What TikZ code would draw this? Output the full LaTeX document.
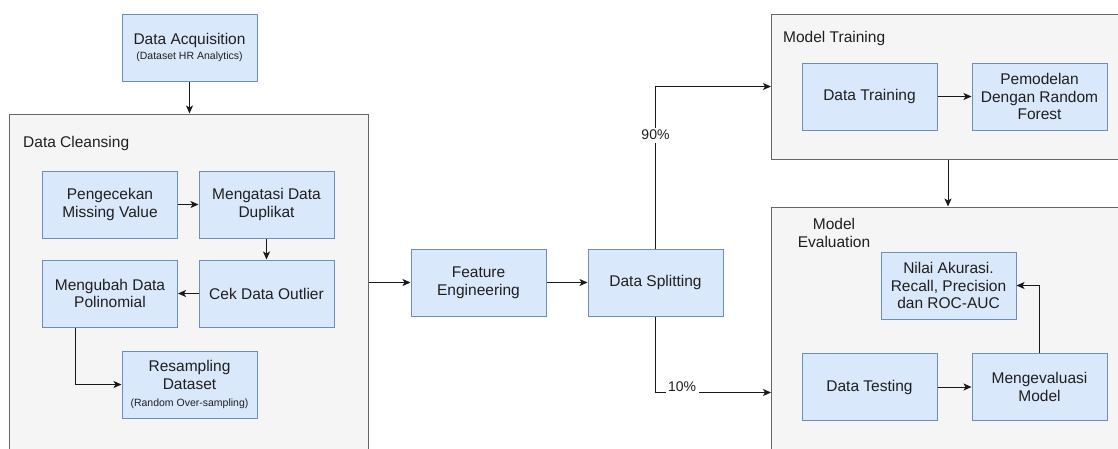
\documentclass[tikz,border=0pt]{standalone}
\usepackage{fontspec}
\setmainfont{Liberation Sans}
\usetikzlibrary{arrows.meta}
\definecolor{boxfill}{HTML}{DAE8FC}
\definecolor{boxline}{HTML}{6C8EBF}
\definecolor{contfill}{HTML}{F5F5F5}
\definecolor{contline}{HTML}{666666}
\definecolor{txt}{HTML}{1F1F1F}
\begin{document}
\begin{tikzpicture}[x=1pt,y=-1pt,
  every node/.style={text=txt},
  stepbox/.style={draw=boxline,fill=boxfill,line width=1pt,minimum width=135pt,minimum height=67pt,inner sep=0pt,align=center,font=\fontsize{15.5}{17.7}\selectfont},
  container/.style={draw=contline,fill=contfill,line width=1pt,inner sep=0pt},
  lbl/.style={font=\fontsize{15.5}{17.7}\selectfont,inner sep=0pt,align=center},
  conn/.style={draw=black!90,line width=1pt,-{Stealth[length=8pt,width=7pt,inset=2pt]}},
  pct/.style={fill=white,font=\fontsize{14}{16}\selectfont,inner sep=2.5pt}
]
\path[use as bounding box,clip] (0,0) rectangle (1118,448);
\fill[white] (0,0) rectangle (1118,448);

% containers
\node[container,minimum width=359pt,minimum height=346pt] (DC) at (188.5,287) {};
\node[container,minimum width=354pt,minimum height=145pt] (MT) at (948,86.5) {};
\node[container,minimum width=354pt,minimum height=253pt] (ME) at (948,333.5) {};

\node[lbl,anchor=west] (DCl) at (23,143) {Data Cleansing};
\node[lbl,anchor=west] (MTl) at (783,38) {Model Training};
\node[lbl] (MEl) at (834,233) {Model\\Evaluation};

% boxes
\node[stepbox] (DA) at (189.5,47.5) {Data Acquisition\\[-2pt]{\fontsize{10.5}{13}\selectfont (Dataset HR Analytics)}};
\node[stepbox] (PG) at (110,204.5) {Pengecekan\\Missing Value};
\node[stepbox] (MD) at (266.5,204.5) {Mengatasi Data\\Duplikat};
\node[stepbox] (CO) at (266.5,293.5) {Cek Data Outlier};
\node[stepbox] (MP) at (110,293.5) {Mengubah Data\\Polinomial};
\node[stepbox] (RS) at (189.5,384.5) {Resampling\\Dataset\\{\fontsize{10.5}{13}\selectfont (Random Over-sampling)}};
\node[stepbox] (FE) at (478.5,282.5) {Feature\\Engineering};
\node[stepbox] (DS) at (655.5,282.5) {Data Splitting};
\node[stepbox] (DT) at (869.5,96.5) {Data Training};
\node[stepbox] (PM) at (1039.5,96.5) {Pemodelan\\Dengan Random\\Forest};
\node[stepbox] (NA) at (948.5,285.5) {Nilai Akurasi.\\Recall, Precision\\dan ROC-AUC};
\node[stepbox] (DX) at (869.5,387) {Data Testing};
\node[stepbox] (MV) at (1039.5,387) {Mengevaluasi\\Model};

% connectors
\draw[conn] (DA.south) -- (DA.south |- DC.north);
\draw[conn] (PG.east) -- (MD.west);
\draw[conn] (MD.south) -- (CO.north);
\draw[conn] (CO.west) -- (MP.west -| MP.east);
\coordinate (MPout) at ([xshift=33.5pt]MP.south west);
\draw[conn] (MPout) |- (RS.west);
\draw[conn] (DC.east |- FE.west) -- (FE.west);
\draw[conn] (FE.east) -- (DS.west);
\coordinate (MTin) at (771,86.5);
\draw[conn] (DS.north) |- node[pos=0.35,pct] (p90) {90\%} (MTin);
\coordinate (MEin) at (771,392.5);
\draw[conn] (DS.south) |- node[pos=0.615,pct,yshift=6pt] (p10) {10\%} (MEin);
\draw[conn] (MT.south) -- (ME.north);
\draw[conn] (DT.east) -- (PM.west);
\draw[conn] (DX.east) -- (MV.west);
\draw[conn] (MV.north) |- (NA.east);
\end{tikzpicture}
\end{document}
